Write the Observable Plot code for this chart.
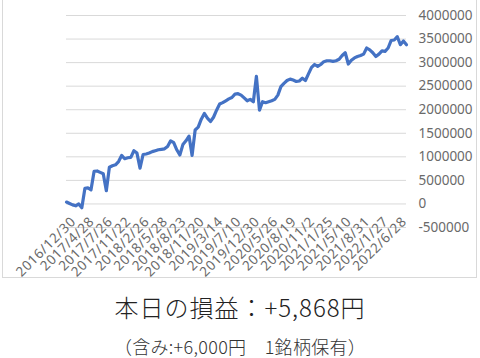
<!DOCTYPE html>
<html>
<head>
<meta charset="utf-8">
<script src="https://cdn.jsdelivr.net/npm/d3@7"></script>
<script src="https://cdn.jsdelivr.net/npm/@observablehq/plot@0.6"></script>
<style>
  body { margin: 0; background: #fff; font-family: "Noto Sans CJK JP", "Noto Sans", sans-serif; }
  #wrap { position: relative; width: 480px; height: 358px; overflow: hidden; }
  #frame { position: absolute; left: 2px; top: -1px; width: 475px; height: 279px; border: 1px solid #d9d9d9; box-sizing: border-box; }
  #chart { position: absolute; left: 0; top: 0; }
  #title { position: absolute; left: 0; top: 280px; width: 480px; text-align: center; font-size: 24px; line-height: 54px; color: #222; font-weight: 300; letter-spacing: 1px; }
  #sub { position: absolute; left: 0; top: 334px; width: 480px; text-align: center; font-size: 18px; line-height: 24px; color: #333; font-weight: 300; letter-spacing: 0.3px; }
  .xlab text { letter-spacing: 0.6px; }
</style>
</head>
<body>
<div id="wrap">
  <div id="frame"></div>
  <div id="chart"></div>
  <div id="title"></div>
  <div id="sub"></div>
</div>
<script>
const titleText = "本日の損益：+5,868円";
const subtitleText = "（含み:+6,000円　1銘柄保有）";

const dateLabels = [
  "2016/12/30","2017/4/28","2017/7/26","2017/11/22","2018/2/26","2018/5/28",
  "2018/8/23","2018/11/20","2019/3/14","2019/7/10","2019/12/30","2020/5/26",
  "2020/8/19","2020/11/2","2021/1/25","2021/5/10","2021/8/31","2022/1/27","2022/6/28"
];
const labelStep = 6;

const yTicks = [-500000, 0, 500000, 1000000, 1500000, 2000000, 2500000, 3000000, 3500000, 4000000];

const profit = [
  40000, 10000, -20000, -40000, 0, -80000, 330000, 340000, 300000, 690000,
  700000, 670000, 640000, 280000, 780000, 810000, 830000, 900000, 1030000, 960000,
  980000, 990000, 1130000, 1080000, 760000, 1050000, 1060000, 1080000, 1110000, 1130000,
  1150000, 1160000, 1170000, 1220000, 1340000, 1300000, 1150000, 1040000, 1260000, 1340000,
  1440000, 1030000, 1570000, 1630000, 1800000, 1920000, 1820000, 1750000, 1840000, 1990000,
  2120000, 2150000, 2190000, 2230000, 2260000, 2330000, 2340000, 2310000, 2250000, 2190000,
  2220000, 2170000, 2710000, 1990000, 2170000, 2150000, 2170000, 2190000, 2220000, 2310000,
  2490000, 2560000, 2620000, 2650000, 2630000, 2600000, 2610000, 2670000, 2620000, 2760000,
  2900000, 2960000, 2920000, 2960000, 3020000, 3040000, 3040000, 3025000, 3040000, 3070000,
  3150000, 3210000, 2970000, 3050000, 3100000, 3130000, 3150000, 3180000, 3310000, 3270000,
  3210000, 3130000, 3180000, 3250000, 3240000, 3310000, 3470000, 3480000, 3550000, 3380000,
  3460000, 3380000
];

const data = profit.map((v, i) => ({i, v}));
const labelIdx = dateLabels.map((_, k) => k * labelStep);

const chart = Plot.plot({
  width: 480,
  height: 280,
  marginLeft: 66,
  marginRight: 74,
  marginTop: 15,
  marginBottom: 53,
  style: { fontFamily: "'Noto Sans', sans-serif", background: "transparent" },
  x: { domain: [0, profit.length - 1] },
  y: { domain: [-500000, 4000000] },
  marks: [
    Plot.gridY(yTicks, { stroke: "#d9d9d9", strokeOpacity: 1, strokeWidth: 1 }),
    Plot.axisY(yTicks, {
      anchor: "right", tickSize: 0, tickPadding: 12, textAnchor: "start",
      tickFormat: d => String(d), fontSize: 13.5, fill: "#6a6a6a", label: null
    }),
    Plot.axisX(labelIdx, {
      anchor: "bottom", tickSize: 0, tickRotate: -45, className: "xlab",
      tickFormat: i => dateLabels[i / labelStep],
      fontSize: 13.5, fill: "#6a6a6a", label: null, dx: 7, dy: -20
    }),
    Plot.line(data, { x: "i", y: "v", stroke: "#4472c4", strokeWidth: 3.2, strokeLinejoin: "round", strokeLinecap: "round" })
  ]
});
document.getElementById("chart").appendChild(chart);
document.getElementById("title").textContent = titleText;
document.getElementById("sub").textContent = subtitleText;
</script>
</body>
</html>
